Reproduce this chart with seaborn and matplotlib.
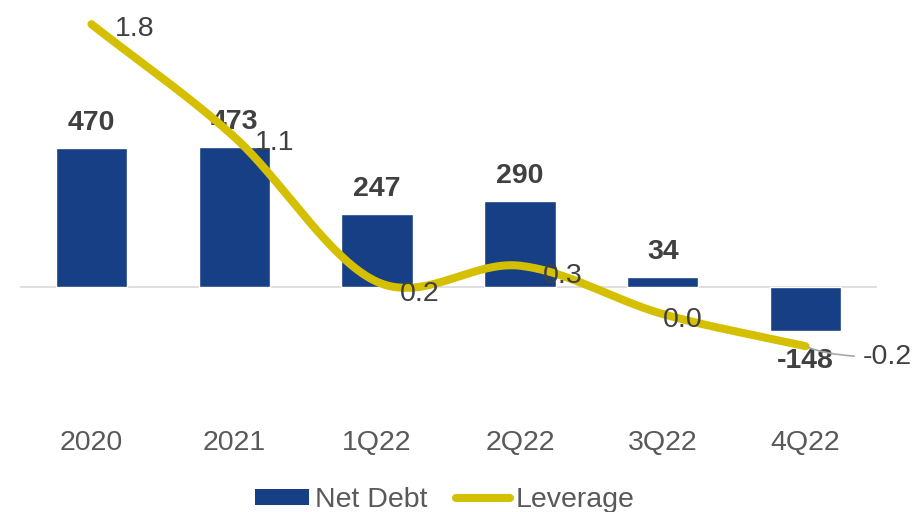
import numpy as np
import pandas as pd
import matplotlib
matplotlib.use("Agg")
import matplotlib.pyplot as plt
from matplotlib.patches import Patch
from matplotlib.lines import Line2D
import seaborn as sns

# Data
periods = ["2020", "2021", "1Q22", "2Q22", "3Q22", "4Q22"]
net_debt = [470, 473, 247, 290, 34, -148]
leverage = [1.8, 1.1, 0.2, 0.3, 0.0, -0.2]

BAR_COLOR = "#173f86"
LINE_COLOR = "#d4bf00"
LABEL_COLOR = "#404040"
TICK_COLOR = "#595959"
FS = 20.5

sns.set_theme(style="white")
plt.rcParams["font.family"] = ["Liberation Sans", "DejaVu Sans"]

fig = plt.figure(figsize=(9.18, 5.12), dpi=100)
ax = fig.add_axes([20 / 918, 1 - 400 / 512, 857 / 918, 390 / 512])

df = pd.DataFrame({"period": periods, "net_debt": net_debt})
sns.barplot(data=df, x="period", y="net_debt", color=BAR_COLOR, width=0.5,
            saturation=1, ax=ax, zorder=2)
ax.set_xlim(-0.5, 5.5)
ax.set_ylim(-382, 937)
ax.axhline(0, color="#d9d9d9", lw=1.2, zorder=1)
ax.set_xlabel("")
ax.set_ylabel("")
ax.set_yticks([])
ax.tick_params(axis="x", length=0, pad=21.5, labelsize=FS, labelcolor=TICK_COLOR)
for s in ax.spines.values():
    s.set_visible(False)

# Net debt value labels
for i, v in enumerate(net_debt):
    off = 25 if v >= 0 else -30
    ax.annotate(f"{v}", (i, v), xytext=(0, off), textcoords="offset pixels",
                ha="center", va="center", fontsize=FS, fontweight="bold",
                color=LABEL_COLOR, zorder=5)

# Leverage on secondary axis, smoothed with a Catmull-Rom spline
ax2 = ax.twinx()
ax2.set_ylim(-0.534, 1.888)
ax2.set_yticks([])
for s in ax2.spines.values():
    s.set_visible(False)

px = np.arange(len(leverage), dtype=float)
py = np.array(leverage, dtype=float)
ext_x = np.concatenate([[2 * px[0] - px[1]], px, [2 * px[-1] - px[-2]]])
ext_y = np.concatenate([[2 * py[0] - py[1]], py, [2 * py[-1] - py[-2]]])
sx, sy = [], []
t = np.linspace(0, 1, 40)
for k in range(1, len(ext_x) - 2):
    p0, p1, p2, p3 = [np.array([ext_x[j], ext_y[j]]) for j in (k - 1, k, k + 1, k + 2)]
    c1 = p1 + (p2 - p0) / 6
    c2 = p2 - (p3 - p1) / 6
    for tt in t[:-1] if k < len(ext_x) - 3 else t:
        b = ((1 - tt) ** 3) * p1 + 3 * ((1 - tt) ** 2) * tt * c1 + 3 * (1 - tt) * tt ** 2 * c2 + tt ** 3 * p2
        sx.append(b[0])
        sy.append(b[1])
curve = pd.DataFrame({"x": sx, "y": sy})
sns.lineplot(data=curve, x="x", y="y", color=LINE_COLOR, lw=5.8, sort=False,
             estimator=None, ax=ax2, solid_capstyle="round", zorder=3)
ax2.set_xlabel("")
ax2.set_ylabel("")
ax2.set_xlim(-0.5, 5.5)

# Leverage value labels
lev_offsets = [(43, -5), (40, -6), (43, -12), (43, -10), (20, -6)]
for i, v in enumerate(leverage[:-1]):
    dx, dy = lev_offsets[i]
    ax2.annotate(f"{v:.1f}", (i, v), xytext=(dx, dy), textcoords="offset pixels",
                 ha="center", va="center", fontsize=FS, color=LABEL_COLOR, zorder=6)
ax2.annotate(f"{leverage[-1]:.1f}", (5, leverage[-1]), xytext=(82, -11),
             textcoords="offset pixels", ha="center", va="center", fontsize=FS,
             color=LABEL_COLOR, zorder=6,
             arrowprops=dict(arrowstyle="-", color="#a6a6a6", lw=1.2,
                             shrinkA=4, shrinkB=2,
                             connectionstyle="angle3,angleA=0,angleB=-25"))

handles = [Patch(facecolor=BAR_COLOR, edgecolor="none"),
           Line2D([0], [0], color=LINE_COLOR, lw=5.8, solid_capstyle="round")]
leg = fig.legend(handles, ["Net Debt", "Leverage"], loc="center",
                 bbox_to_anchor=(445 / 918, 1 - 500 / 512), ncol=2, frameon=False,
                 fontsize=FS, handlelength=1.9, handleheight=0.45,
                 handletextpad=0.2, columnspacing=1.0)
for txt in leg.get_texts():
    txt.set_color(TICK_COLOR)

fig.savefig("out.png", dpi=100)
